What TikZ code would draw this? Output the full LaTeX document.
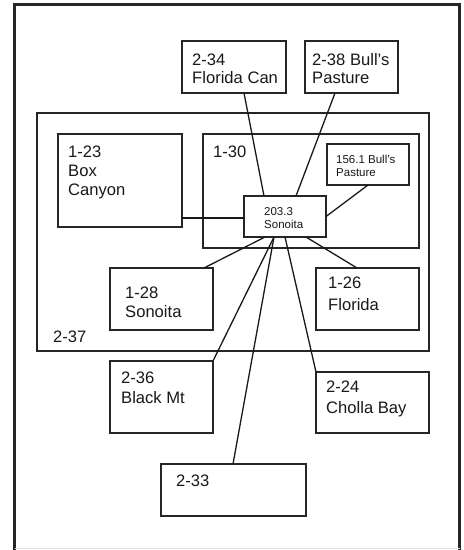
\documentclass[tikz,border=0pt]{standalone}
\usepackage{fontspec}
\setmainfont{Liberation Sans}
\usetikzlibrary{calc}
\tikzset{
  box/.style={draw=black!85, line width=1.6pt, inner sep=0pt, outer sep=0pt, anchor=north west},
  smallbox/.style={box, line width=1.1pt},
  bigtxt/.style={anchor=base west, inner sep=0pt, font=\fontsize{16.6}{19}\selectfont, text=black!90},
  smalltxt/.style={anchor=base west, inner sep=0pt, font=\fontsize{11.5}{13.5}\selectfont, text=black!90},
  link/.style={draw=black!90, line width=1.3pt},
}
\begin{document}
\begin{tikzpicture}[x=1pt,y=-1pt]
\useasboundingbox (0,0) rectangle (464,550);
\fill[white] (0,0) rectangle (464,550);
% outer frame (bottom edge cut off)
\draw[line width=2.6pt, black!85] (14.5,550) -- (14.5,4.5) -- (459.5,4.5) -- (459.5,550);
\draw[line width=0.6pt, black!12] (14.5,548.7) -- (459.5,548.7);

% boxes
\node[box, line width=2pt, minimum width=392pt, minimum height=238pt] (b237) at (37,113) {};
\node[box, minimum width=104pt, minimum height=52pt] (b234) at (182,41) {};
\node[box, minimum width=93pt, minimum height=52pt] (b238) at (305,41) {};
\node[box, minimum width=124pt, minimum height=93pt] (b123) at (58,134) {};
\node[box, minimum width=216pt, minimum height=114pt] (b130) at (203,134) {};
\node[smallbox, minimum width=82pt, minimum height=41pt] (b156) at (327,144) {};
\node[smallbox, minimum width=82pt, minimum height=41pt] (b203) at (244,196) {};
\node[box, minimum width=103pt, minimum height=62pt] (b128) at (110,268) {};
\node[box, minimum width=103pt, minimum height=62pt] (b126) at (316,268) {};
\node[box, minimum width=103pt, minimum height=72pt] (b236) at (110,361) {};
\node[box, minimum width=113pt, minimum height=61pt] (b224) at (316,372) {};
\node[box, minimum width=145pt, minimum height=52pt] (b233) at (161,464) {};

% texts
\node[bigtxt] (t234a) at (192,65) {2-34};
\node[bigtxt] (t234b) at (192,83.5) {Florida Can};
\node[bigtxt] (t238a) at (312,65) {2-38 Bull’s};
\node[bigtxt] (t238b) at (312,83.5) {Pasture};
\node[bigtxt] (t123a) at (68,157) {1-23};
\node[bigtxt] (t123b) at (68,176) {Box};
\node[bigtxt] (t123c) at (68,195) {Canyon};
\node[bigtxt] (t130) at (213,157) {1-30};
\node[smalltxt] (t156a) at (336,163) {156.1 Bull’s};
\node[smalltxt] (t156b) at (336,176.5) {Pasture};
\node[smalltxt] (t203a) at (264,215) {203.3};
\node[smalltxt] (t203b) at (264,228.5) {Sonoita};
\node[bigtxt] (t128a) at (125,298) {1-28};
\node[bigtxt] (t128b) at (125,317) {Sonoita};
\node[bigtxt] (t126a) at (328,288.5) {1-26};
\node[bigtxt] (t126b) at (328,310) {Florida};
\node[bigtxt] (t237) at (53,342) {2-37};
\node[bigtxt] (t236a) at (121,383) {2-36};
\node[bigtxt] (t236b) at (121,403) {Black Mt};
\node[bigtxt] (t224a) at (326,392) {2-24};
\node[bigtxt] (t224b) at (326,413) {Cholla Bay};
\node[bigtxt] (t233) at (176,486) {2-33};

% connectors
\draw[link] ([xshift=62pt]b234.south west) -- ([xshift=20pt]b203.north west);
\draw[link] ([xshift=30pt]b238.south west) -- ([xshift=52pt]b203.north west);
\coordinate (c123) at ([yshift=9pt]b123.south east);
\draw[link] (c123) -- (c123 -| b203.west);
\draw[link] ([xshift=41pt]b156.south west) -- (b203.east);
\draw[link] ([xshift=21pt]b203.south west) -- ([xshift=-9pt]b128.north east);
\draw[link] ([xshift=62pt]b203.south west) -- ([xshift=41pt]b126.north west);
\draw[link] ([xshift=30pt]b203.south west) -- (b236.north east);
\draw[link] ([xshift=30pt]b203.south west) -- ([xshift=72pt]b233.north west);
\draw[link] ([xshift=41pt]b203.south west) -- (b224.north west);
\end{tikzpicture}
\end{document}
